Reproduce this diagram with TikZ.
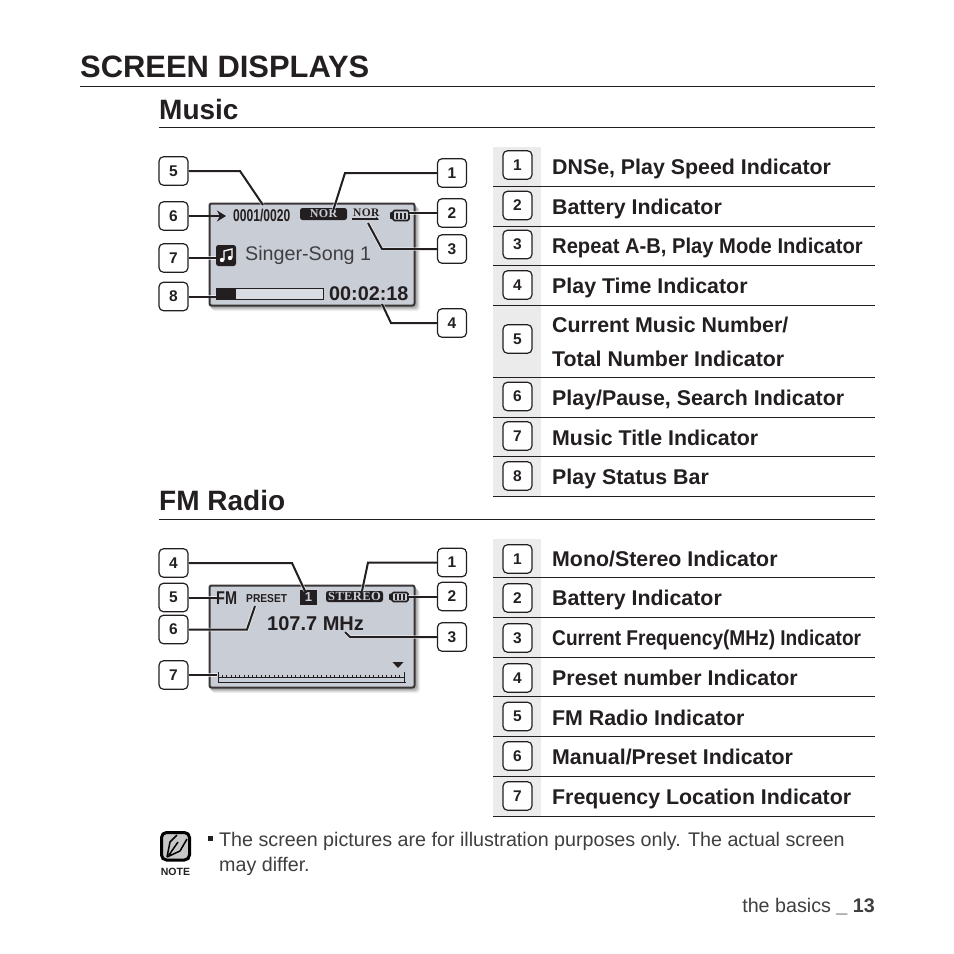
\documentclass[tikz,border=0pt]{standalone}
\usepackage{fontspec}
\setmainfont{Liberation Sans}
\newfontfamily\lcdserif[LetterSpace=3]{Liberation Serif}
\usetikzlibrary{arrows.meta,calc}
\definecolor{ink}{HTML}{231F20}
\definecolor{cell}{HTML}{EBEBEB}
\definecolor{lcd}{HTML}{C9CDD6}
\definecolor{muted}{HTML}{3F3F41}
\newcommand{\titlefont}{\fontsize{30.9}{34}\selectfont\bfseries}
\newcommand{\headfont}{\fontsize{28}{32}\selectfont\bfseries}
\newcommand{\rowfont}{\fontsize{21.35}{26}\selectfont\bfseries}
\newcommand{\numfont}{\fontsize{15.5}{18}\selectfont\bfseries}
\newcommand{\bodyfont}{\fontsize{19.7}{24}\selectfont}
\tikzset{
  numbox/.style={draw=ink,line width=1.2pt,rounded corners=4.5pt,fill=white,minimum width=29pt,minimum height=28.5pt,inner sep=0,text=ink,font=\numfont},
  callline/.style={ink,line width=2pt,preaction={draw=white,line width=3.5pt,opacity=.6}},
  rowlabel/.style={anchor=base west,inner sep=0,text=ink,font=\rowfont},
  rowrule/.style={ink,line width=0.8pt},
  lcdpanel/.style={draw=ink!90,line width=2pt,fill=lcd,rounded corners=2pt,minimum width=205pt,minimum height=102pt,inner sep=0},
  pill/.style={fill=ink,rounded corners=2.5pt,inner sep=0,text=lcd},
  lcdtext/.style={anchor=base west,inner sep=0,text=ink}
}
\begin{document}
\begin{tikzpicture}[x=1pt,y=-1pt]
\useasboundingbox (0,0) rectangle (954,954);
\fill[white] (0,0) rectangle (954,954);
% headings
\node[anchor=base west,inner sep=0,text=ink,font=\titlefont] (title) at (80,77) {SCREEN DISPLAYS};
\draw[ink,line width=0.8pt] (80,86.5) -- (875,86.5);
\node[anchor=base west,inner sep=0,text=ink,font=\headfont] (music) at (159,119) {Music};
\draw[ink,line width=0.8pt] (159,127) -- (875,127);
\node[anchor=base west,inner sep=0,text=ink,font=\headfont] (radio) at (159,510) {FM Radio};
\draw[ink,line width=0.8pt] (159,519) -- (875,519);
% music table
\fill[cell] (493,147) rectangle (541,497);
\foreach \y in {186.5,226.5,265.5,305.5,377.5,417.5,456.5,496.5}
  \draw[rowrule] (493,\y) -- (875,\y);
\foreach \n/\y in {1/165,2/205.5,3/244.5,4/285,5/339,6/396.5,7/436,8/476}
  \node[numbox] (mrow\n) at (517.5,\y) {\n};
\node[rowlabel] (mtext1) at (552,174) {DNSe, Play Speed Indicator};
\node[rowlabel] (mtext2) at (552,214) {Battery Indicator};
\node[rowlabel] (mtext3) at (552,253) {\scalebox{0.945}[1]{Repeat A-B, Play Mode Indicator}};
\node[rowlabel] (mtext4) at (552,293) {Play Time Indicator};
\node[rowlabel] (mtext5) at (552,332) {Current Music Number/};
\node[rowlabel] (mtext5b) at (552,366) {Total Number Indicator};
\node[rowlabel] (mtext6) at (552,405) {Play/Pause, Search Indicator};
\node[rowlabel] (mtext7) at (552,445) {Music Title Indicator};
\node[rowlabel] (mtext8) at (552,484) {Play Status Bar};
% radio table
\fill[cell] (493,539) rectangle (541,817);
\foreach \y in {577.5,617.5,657.5,696.5,736.5,776.5,816.5}
  \draw[rowrule] (493,\y) -- (875,\y);
\foreach \n/\y in {1/559,2/598,3/638,4/678,5/716.5,6/756,7/796}
  \node[numbox] (frow\n) at (517.5,\y) {\n};
\node[rowlabel] (ftext1) at (552,566) {Mono/Stereo Indicator};
\node[rowlabel] (ftext2) at (552,605) {Battery Indicator};
\node[rowlabel] (ftext3) at (552,645) {\scalebox{0.895}[1]{Current Frequency(MHz) Indicator}};
\node[rowlabel] (ftext4) at (552,685) {Preset number Indicator};
\node[rowlabel] (ftext5) at (552,725) {FM Radio Indicator};
\node[rowlabel] (ftext6) at (552,764) {Manual/Preset Indicator};
\node[rowlabel] (ftext7) at (552,804) {Frequency Location Indicator};
% music screen
\foreach \d/\o in {5/.06,4/.08,3/.1,2/.12}
  \fill[black,opacity=\o,rounded corners=3pt] (209+\d-2,203+\d) rectangle (415+\d,306+\d);
\node[lcdpanel] (mscreen) at (312,254.5) {};
\coordinate (mplay) at (226,216);
\node[lcdtext,font=\fontsize{17}{20}\selectfont\bfseries] (mcount) at (233,221) {\scalebox{0.71}[1]{0001/0020}};
\node[pill,minimum width=47pt,minimum height=12pt,font=\fontsize{12}{14}\lcdserif\bfseries] (mdnse) at (323.5,214) {NOR};
\node[lcdtext,font=\fontsize{11.5}{14}\lcdserif\bfseries] (mmode) at (353,216.5) {NOR};
\draw[ink,line width=1.1pt] (352,219) -- (378,219);
\fill[ink] (376,217) -- (379,219.5) -- (376,219.5) -- cycle;
\fill[ink,rounded corners=1pt] (390,212) rectangle (394,219);
\draw[ink,line width=1.6pt,rounded corners=1.5pt,fill=lcd] (393,210.5) rectangle (409,220.5);
\foreach \x in {395.5,399.5,403.5} \fill[ink] (\x,212.5) rectangle +(2.8,6.5);
\fill[rounded corners=2.5pt,ink] (216,245) rectangle (236,266);
\fill[white] (222,260) circle (2.2) (230,258) circle (2.2);
\draw[white,line width=1.3pt] (224,260) -- (224,251) -- (232,249) -- (232,258);
\node[lcdtext,text=muted,font=\bodyfont] (msong) at (245,260) {Singer-Song 1};
\draw[ink,line width=0.9pt,fill=lcd!70!white] (216,288) rectangle (323,299.5);
\fill[ink] (216,288) rectangle (236,299.5);
\node[lcdtext,font=\fontsize{19.8}{22}\selectfont\bfseries] (mtime) at (329,300) {00:02:18};
% music callouts
\foreach \n/\x/\y in {5/173.5/171,6/173.5/216,7/173.5/258,8/173.5/296.5,1/452/173,2/452/213,3/452/249,4/452/323}
  \node[numbox] (mbox\n) at (\x,\y) {\n};
\coordinate (mend5) at (263,205);
\coordinate (mend1) at (333,211);
\coordinate (mend3) at (368,223);
\coordinate (mend4) at (382,304);
\draw[callline] (mbox5.east) -- (240,171) -- (mend5);
\draw[callline] (mbox1.west) -- (345,173) -- (mend1);
\draw[ink,line width=2pt,-{Stealth[length=9pt,width=11pt]}] (mbox6.east) -- (mplay);
\draw[callline] (mbox2.west) -- (409,213);
\draw[callline] (mbox3.west) -- (382,249) -- (mend3);
\draw[callline] (mbox7.east) -- (216,258);
\draw[callline] (mbox8.east) -- (216,296.5);
\draw[callline] (mbox4.west) -- (391,323) -- (mend4);
% radio screen
\foreach \d/\o in {5/.06,4/.08,3/.1,2/.12}
  \fill[black,opacity=\o,rounded corners=3pt] (209+\d-2,585+\d) rectangle (415+\d,688+\d);
\node[lcdpanel] (fscreen) at (312,636.5) {};
\node[lcdtext,font=\fontsize{18.5}{20}\selectfont\bfseries] (ffm) at (216,604) {\scalebox{0.78}[1]{FM}};
\node[lcdtext,font=\fontsize{11.5}{14}\selectfont\bfseries] (fpreset) at (246,602) {\scalebox{0.89}[1]{PRESET}};
\node[pill,rounded corners=0,minimum width=17pt,minimum height=15pt,font=\fontsize{13}{15}\selectfont\bfseries] (fnum) at (308.5,597.5) {1};
\node[pill,minimum width=57pt,minimum height=11pt,font=\fontsize{12.5}{14}\lcdserif\bfseries] (fstereo) at (354.5,596.5) {STEREO};
\fill[ink,rounded corners=1pt] (389,593.5) rectangle (393,600);
\draw[ink,line width=1.6pt,rounded corners=1.5pt,fill=lcd] (392,592.5) rectangle (408,601.5);
\foreach \x in {394.5,398.5,402.5} \fill[ink] (\x,594) rectangle +(2.8,6);
\node[lcdtext,font=\fontsize{20}{24}\selectfont\bfseries] (ffreq) at (267,630) {107.7 MHz};
\fill[ink] (392.5,662) -- (403.5,662) -- (398,668) -- cycle;
\draw[ink,line width=0.9pt] (218,677.7) -- (405,677.7);
\draw[ink,line width=1.1pt] (218,682.7) -- (406,682.7);
\foreach \i in {0,...,43} \draw[ink,line width=0.9pt] (218+\i*4.325,674.5) -- (218+\i*4.325,678);
\draw[ink,line width=1pt] (218,672) -- (218,683) (404.5,672) -- (404.5,683);
% radio callouts
\foreach \n/\x/\y in {4/173.5/563,5/173.5/597.5,6/173.5/629.5,7/173.5/675,1/452/562.5,2/452/596.5,3/452/637}
  \node[numbox] (fbox\n) at (\x,\y) {\n};
\coordinate (fend4) at (305,591);
\coordinate (fend1) at (362,591);
\coordinate (fend6) at (255,606);
\coordinate (fend3) at (345,632);
\draw[callline] (fbox4.east) -- (292,563) -- (fend4);
\draw[callline] (fbox1.west) -- (368,562.5) -- (fend1);
\draw[callline] (fbox5.east) -- (217,597.5);
\draw[callline] (fbox2.west) -- (408,596.5);
\draw[callline] (fbox6.east) -- (247,629.5) -- (fend6);
\draw[callline] (fbox3.west) -- (350,637) -- (fend3);
\draw[callline] (fbox7.east) -- (217,675);
% note
\draw[black,line width=3pt,rounded corners=5pt,fill=black!22] (161.5,832.5) rectangle (189.5,860);
\draw[black,line width=1.5pt,line join=round] (167,857) -- (170,842) -- (177,835) (167,857) -- (180,851) -- (187,839) (169,855) -- (178,842);
\node[anchor=base,inner sep=0,text=ink,font=\fontsize{10.5}{12}\selectfont\bfseries] (notelabel) at (175.5,875) {NOTE};
\fill[ink] (208,836) rectangle (213,841);
\node[anchor=base west,inner sep=0,text=muted,font=\bodyfont] (noteone) at (219,846) {The screen pictures are for illustration purposes only. The actual screen};
\node[anchor=base west,inner sep=0,text=muted,font=\bodyfont] (notetwo) at (219,871) {may differ.};
% footer
\node[anchor=base east,inner sep=0,text=muted,font=\fontsize{19.7}{22}\selectfont] (foot) at (875,912) {the basics \textbf{\_ 13}};
\end{tikzpicture}
\end{document}
